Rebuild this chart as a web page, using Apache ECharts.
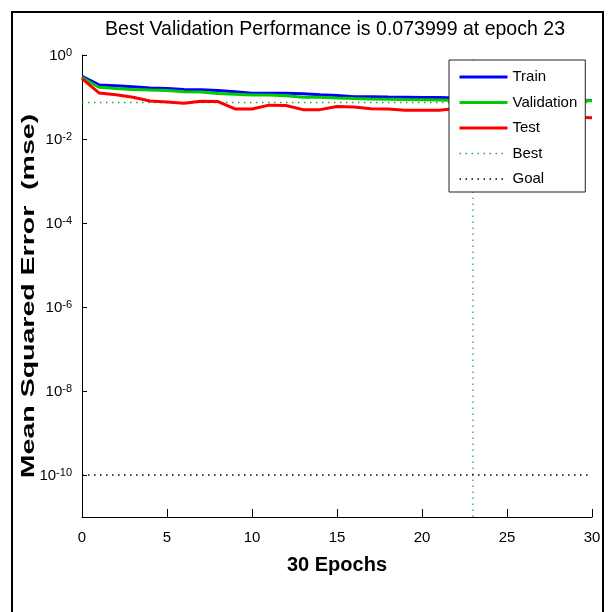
<!DOCTYPE html>
<html>
<head>
<meta charset="utf-8">
<script src="https://cdn.jsdelivr.net/npm/echarts@6/dist/echarts.min.js"></script>
<style>
html,body{margin:0;padding:0;background:#fff;}
#chart{width:609px;height:612px;}
</style>
</head>
<body>
<div id="chart"></div>
<script>
// ---- data ----
const epochs = [0,1,2,3,4,5,6,7,8,9,10,11,12,13,14,15,16,17,18,19,20,21,22,23,24,25,26,27,28,29,30];
const trainPerf = [0.309,0.194,0.185,0.176,0.164,0.159,0.151,0.148,0.143,0.134,0.123,0.123,0.122,0.119,0.113,0.108,0.102,0.102,0.100,0.099,0.097,0.097,0.095,0.094,0.093,0.092,0.091,0.089,0.088,0.085,0.082];
const valPerf = [0.292,0.170,0.159,0.151,0.146,0.143,0.133,0.132,0.121,0.117,0.111,0.111,0.107,0.099,0.099,0.095,0.092,0.090,0.089,0.0875,0.0864,0.085,0.083,0.073999,0.075,0.076,0.078,0.079,0.080,0.084,0.081];
const testPerf = [0.273,0.125,0.113,0.099,0.080,0.076,0.071,0.079,0.078,0.052,0.052,0.064,0.063,0.050,0.050,0.0595,0.058,0.0527,0.052,0.0485,0.0485,0.0485,0.053,0.050,0.047,0.044,0.041,0.038,0.036,0.033,0.032];
const bestEpoch = 23;
const bestPerf = 0.073999;
const goalPerf = 1e-10;
const yTickValues = [1e-10, 1e-8, 1e-6, 1e-4, 1e-2, 1];
const xTickInterval = 5;
const legendNames = ['Train', 'Validation', 'Test', 'Best', 'Goal'];
const titleText = 'Best Validation Performance is ' + bestPerf + ' at epoch ' + bestEpoch;
const xName = epochs[epochs.length - 1] + ' Epochs';
const yName = 'Mean Squared Error  (mse)';

const SANS = 'Liberation Sans, Arial, sans-serif';
const tickSize = 15;

const chart = echarts.init(document.getElementById('chart'), null, {renderer: 'canvas'});

function pairs(vals) { return epochs.map(function (e, i) { return [e, vals[i]]; }); }
const xMin = epochs[0], xMax = epochs[epochs.length - 1];

const dotted = [1.5, 4.5];
const legendWidths = [3, 3, 3, 1.3, 1.3];
const option = {
  animation: false,
  backgroundColor: '#fff',
  grid: {left: 82, right: 17, top: 55, bottom: 95, outerBoundsMode: 'none'},
  xAxis: {
    type: 'value', min: xMin, max: xMax, interval: xTickInterval,
    axisLine: {show: true, lineStyle: {color: '#000', width: 1}},
    axisTick: {show: true, inside: true, length: 8, lineStyle: {color: '#000'}},
    axisLabel: {margin: 13, color: '#000', fontSize: tickSize, fontFamily: SANS},
    splitLine: {show: false}
  },
  yAxis: {
    type: 'log', logBase: 10, min: 1e-11, max: 1,
    axisLine: {show: true, onZero: false, lineStyle: {color: '#000', width: 1}},
    axisTick: {show: true, inside: true, length: 5, lineStyle: {color: '#000'}, customValues: yTickValues},
    axisLabel: {
      margin: 10, color: '#000', customValues: yTickValues,
      formatter: function (v) {
        const ex = Math.round(Math.log10(v));
        return '{b|10}{e|' + ex + '}';
      },
      rich: {
        b: {fontSize: tickSize, fontFamily: SANS, color: '#000', lineHeight: 16, padding: [7, 0, 0, 0], verticalAlign: 'bottom'},
        e: {fontSize: 11, fontFamily: SANS, color: '#000', lineHeight: 11, verticalAlign: 'top'}
      }
    },
    splitLine: {show: false}
  },
  legend: {
    orient: 'vertical', left: 449, top: 60,
    data: legendNames.map(function (n, i) { return {name: n, lineStyle: {width: legendWidths[i]}}; }),
    itemWidth: 48, itemHeight: 15, itemGap: 10.5,
    padding: [9.5, 8, 5.5, 9],
    backgroundColor: '#fff', borderColor: '#222', borderWidth: 1, borderRadius: 0,
    selectedMode: false,
    itemStyle: {opacity: 0},
    textStyle: {fontSize: 15, fontFamily: SANS, color: '#000', lineHeight: 15}
  },
  series: [
    {name: 'Best', type: 'line', symbol: 'none', data: [[xMin, bestPerf], [xMax, bestPerf]],
     lineStyle: {color: '#2aa82a', width: 1.3, type: dotted}, itemStyle: {color: '#2aa82a'}, z: 1},
    {name: 'Best', type: 'line', symbol: 'none', data: [[bestEpoch, 1e-11], [bestEpoch, 1]],
     lineStyle: {color: '#2aa82a', width: 1.3, type: dotted}, itemStyle: {color: '#2aa82a'}, z: 1},
    {name: 'Goal', type: 'line', symbol: 'none', data: [[xMin, goalPerf], [xMax, goalPerf]],
     lineStyle: {color: '#000', width: 1.3, type: dotted}, itemStyle: {color: '#000'}, z: 1},
    {name: 'Train', type: 'line', symbol: 'none', data: pairs(trainPerf),
     lineStyle: {color: '#0000ff', width: 3}, itemStyle: {color: '#0000ff'}, z: 2},
    {name: 'Validation', type: 'line', symbol: 'none', data: pairs(valPerf),
     lineStyle: {color: '#00cc00', width: 3}, itemStyle: {color: '#00cc00'}, z: 2},
    {name: 'Test', type: 'line', symbol: 'none', data: pairs(testPerf),
     lineStyle: {color: '#ff0000', width: 3}, itemStyle: {color: '#ff0000'}, z: 2}
  ],
  graphic: [
    {type: 'rect', shape: {x: 12, y: 12, width: 591, height: 620}, style: {fill: 'none', stroke: '#000', lineWidth: 2}, silent: true, z: 0},
    {type: 'text', x: 335, y: 29, scaleX: 0.93, scaleY: 1, silent: true,
     style: {text: titleText, fill: '#000', textAlign: 'center', textVerticalAlign: 'middle',
             font: '21px ' + SANS}},
    {type: 'text', x: 337, y: 565, silent: true,
     style: {text: xName, fill: '#000', textAlign: 'center', textVerticalAlign: 'middle', font: 'bold 20px ' + SANS}},
    {type: 'text', x: 29, y: 296, rotation: Math.PI / 2, scaleX: 1.5, scaleY: 1, silent: true,
     style: {text: yName, fill: '#000', textAlign: 'center', textVerticalAlign: 'middle', font: 'bold 19px ' + SANS}}
  ]
};
chart.setOption(option);
</script>
</body>
</html>
